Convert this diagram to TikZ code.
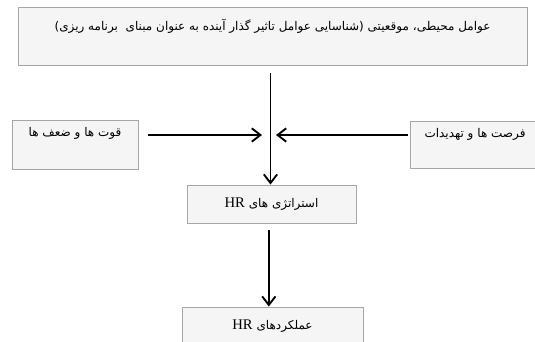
\documentclass[tikz,border=0pt]{standalone}
\usepackage{fontspec}
\setmainfont{Liberation Serif}
\newfontfamily\farsi[Script=Arabic]{DejaVu Sans}
\TeXXeTstate=1
\usetikzlibrary{arrows.meta}

\begin{document}
\begin{tikzpicture}[x=0.75pt,y=-0.75pt,
box/.style={draw=gray!70,fill=gray!8,line width=0.7pt,inner sep=0pt,font=\farsi\fontsize{9}{11}\selectfont},
txt/.style={anchor=center,inner sep=0pt,font=\farsi\fontsize{9}{11}\selectfont},
arr/.style={-{Straight Barb[length=6.5pt,width=10pt]},line width=1.4pt}]
\useasboundingbox(0,0)rectangle(535,342);
\node[box,minimum width=381.75pt,minimum height=43.5pt,label={[txt,yshift=-15pt]north:\beginR عوامل محیطی، موقعیتی (شناسایی عوامل تاثیر گذار آینده به عنوان مبنای\ \ برنامه ریزی)\endR}](env)at(272.5,36){};
\node[box,minimum width=94.5pt,minimum height=36.75pt,label={[txt,yshift=-10.5pt]north:\beginR قوت ها و ضعف ها\endR}](sw)at(75,144.5){};
\node[box,minimum width=97.5pt,minimum height=35.25pt,label={[txt,yshift=-10.5pt]north:\beginR فرصت ها و تهدیدات\endR}](ot)at(475,144.5){};
\node[box,minimum width=126.75pt,minimum height=28.5pt](hrs)at(271.5,204){\beginR استراتژی های \beginL{\rmfamily\fontsize{11}{13}\selectfont HR}\endL\endR};
\node[box,minimum width=135.75pt,minimum height=28.5pt](hrp)at(272.5,326){\beginR عملکردهای \beginL{\rmfamily\fontsize{11}{13}\selectfont HR}\endL\endR};
\coordinate(lt)at(262,135);
\coordinate(rt)at(276,135);
\draw[arr,shorten <=6pt]([xshift=-1.5pt]env.south)--([xshift=-1.5pt]env.south|-hrs.north);
\draw[arr,shorten <=7.5pt](sw.east|-lt)--(lt);
\draw[arr,shorten <=1.5pt](ot.west|-rt)--(rt);
\draw[arr,shorten <=5pt]([xshift=-2pt]hrs.south)--([xshift=-2pt]hrs.south|-hrp.north);
\end{tikzpicture}
\end{document}
